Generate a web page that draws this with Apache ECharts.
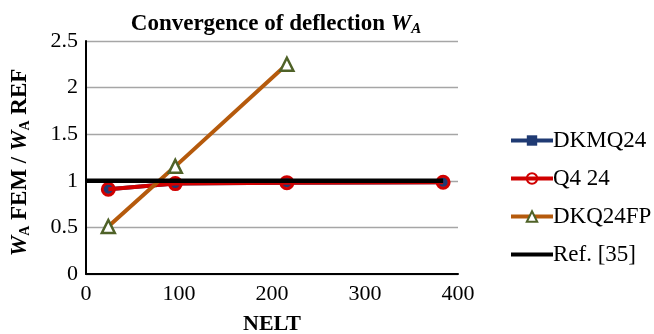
<!DOCTYPE html>
<html><head><meta charset="utf-8">
<script src="https://cdn.jsdelivr.net/npm/echarts@6/dist/echarts.min.js"></script>
<style>html,body{margin:0;padding:0;background:#fff}#c{width:654px;height:334px}</style>
</head><body><div id="c"></div>
<script>
const nelt = [24, 96, 216, 384];
const dkmq24 = [0.91, 0.97, 0.98, 0.985];
const q424 = [0.91, 0.97, 0.98, 0.985];
const dkq24fp = [0.51, 1.155, 2.25];
const refX = [0, 384];
const refY = [1, 1];
const yTicks = [0, 0.5, 1, 1.5, 2, 2.5];
const xTicks = [0, 100, 200, 300, 400];

const F = '"Liberation Serif","Times New Roman",serif';
const pairs = (xs, ys) => ys.map((v, i) => [xs[i], v]);

const chart = echarts.init(document.getElementById('c'));
chart.setOption({
  animation: false,
  backgroundColor: '#fff',
  title: {
    text: '{b|Convergence of deflection }{i|W}{s|A}',
    left: 271, top: 7, textAlign: 'center',
    textStyle: {
      rich: {
        b: {fontFamily: F, fontWeight: 'bold', fontSize: 23, color: '#000'},
        i: {fontFamily: F, fontWeight: 'bold', fontStyle: 'italic', fontSize: 23, color: '#000'},
        s: {fontFamily: F, fontWeight: 'bold', fontStyle: 'italic', fontSize: 15, color: '#000', verticalAlign: 'bottom', padding: [10, 0, 0, 0]}
      }
    }
  },
  legend: {
    orient: 'vertical', left: 504, top: 124, itemGap: 15, itemWidth: 42, itemHeight: 13,
    textStyle: {fontFamily: F, fontSize: 23, color: '#000', padding: [0, 0, 0, -5]},
    lineStyle: {width: 4},
    data: ['DKMQ24', 'Q4 24', 'DKQ24FP', 'Ref. [35]']
  },
  grid: {left: 86, right: 196, top: 41, bottom: 60, outerBoundsMode: 'none', containLabel: false},
  xAxis: {
    type: 'value', min: 0, max: 400, interval: 100,
    name: 'NELT', nameLocation: 'middle', nameGap: 39,
    nameTextStyle: {fontFamily: F, fontWeight: 'bold', fontSize: 22, color: '#000'},
    axisLine: {lineStyle: {color: '#000', width: 2}},
    axisTick: {show: false},
    splitLine: {show: false},
    axisLabel: {fontFamily: F, fontSize: 22, color: '#000', margin: 9,
      formatter: v => xTicks.includes(v) ? String(v) : ''}
  },
  yAxis: {
    type: 'value', min: 0, max: 2.5, interval: 0.5,
    name: '{i|W}{s|A}{b| FEM / }{i|W}{s|A}{b| REF}',
    nameLocation: 'middle', nameGap: 54, nameRotate: 90,
    nameTextStyle: {
      padding: [0, 10, 0, 0],
      rich: {
        b: {fontFamily: F, fontWeight: 'bold', fontSize: 23, color: '#000'},
        i: {fontFamily: F, fontWeight: 'bold', fontStyle: 'italic', fontSize: 23, color: '#000'},
        s: {fontFamily: F, fontWeight: 'bold', fontSize: 14, color: '#000', verticalAlign: 'bottom', padding: [10, 0, 0, 0]}
      }
    },
    axisLine: {show: true, lineStyle: {color: '#000', width: 2}},
    axisTick: {show: false},
    splitLine: {lineStyle: {color: '#a6a6a6', width: 1.3}},
    axisLabel: {fontFamily: F, fontSize: 22, color: '#000', margin: 8,
      formatter: v => yTicks.includes(v) ? String(v) : ''}
  },
  series: [
    {name: 'DKMQ24', type: 'line', data: pairs(nelt, dkmq24),
      symbol: 'rect', symbolSize: 9, lineStyle: {color: '#1f3a73', width: 4},
      itemStyle: {color: '#1f3a73', borderColor: '#1f3a73'}, z: 2},
    {name: 'Q4 24', type: 'line', data: pairs(nelt, q424),
      symbol: 'circle', symbolSize: 12, lineStyle: {color: '#d00000', width: 4},
      itemStyle: {color: 'rgba(0,0,0,0)', borderColor: '#d00000', borderWidth: 3}, z: 3},
    {name: 'DKQ24FP', type: 'line', data: pairs(nelt, dkq24fp),
      symbol: 'triangle', symbolSize: 13, lineStyle: {color: '#b55a0c', width: 4},
      itemStyle: {color: '#fff', borderColor: '#4f6228', borderWidth: 2.5}, z: 4},
    {name: 'Ref. [35]', type: 'line', data: pairs(refX, refY),
      symbol: 'none', lineStyle: {color: '#000', width: 4.5},
      itemStyle: {color: 'rgba(0,0,0,0)', borderWidth: 0}, z: 5}
  ]
});
</script></body></html>
